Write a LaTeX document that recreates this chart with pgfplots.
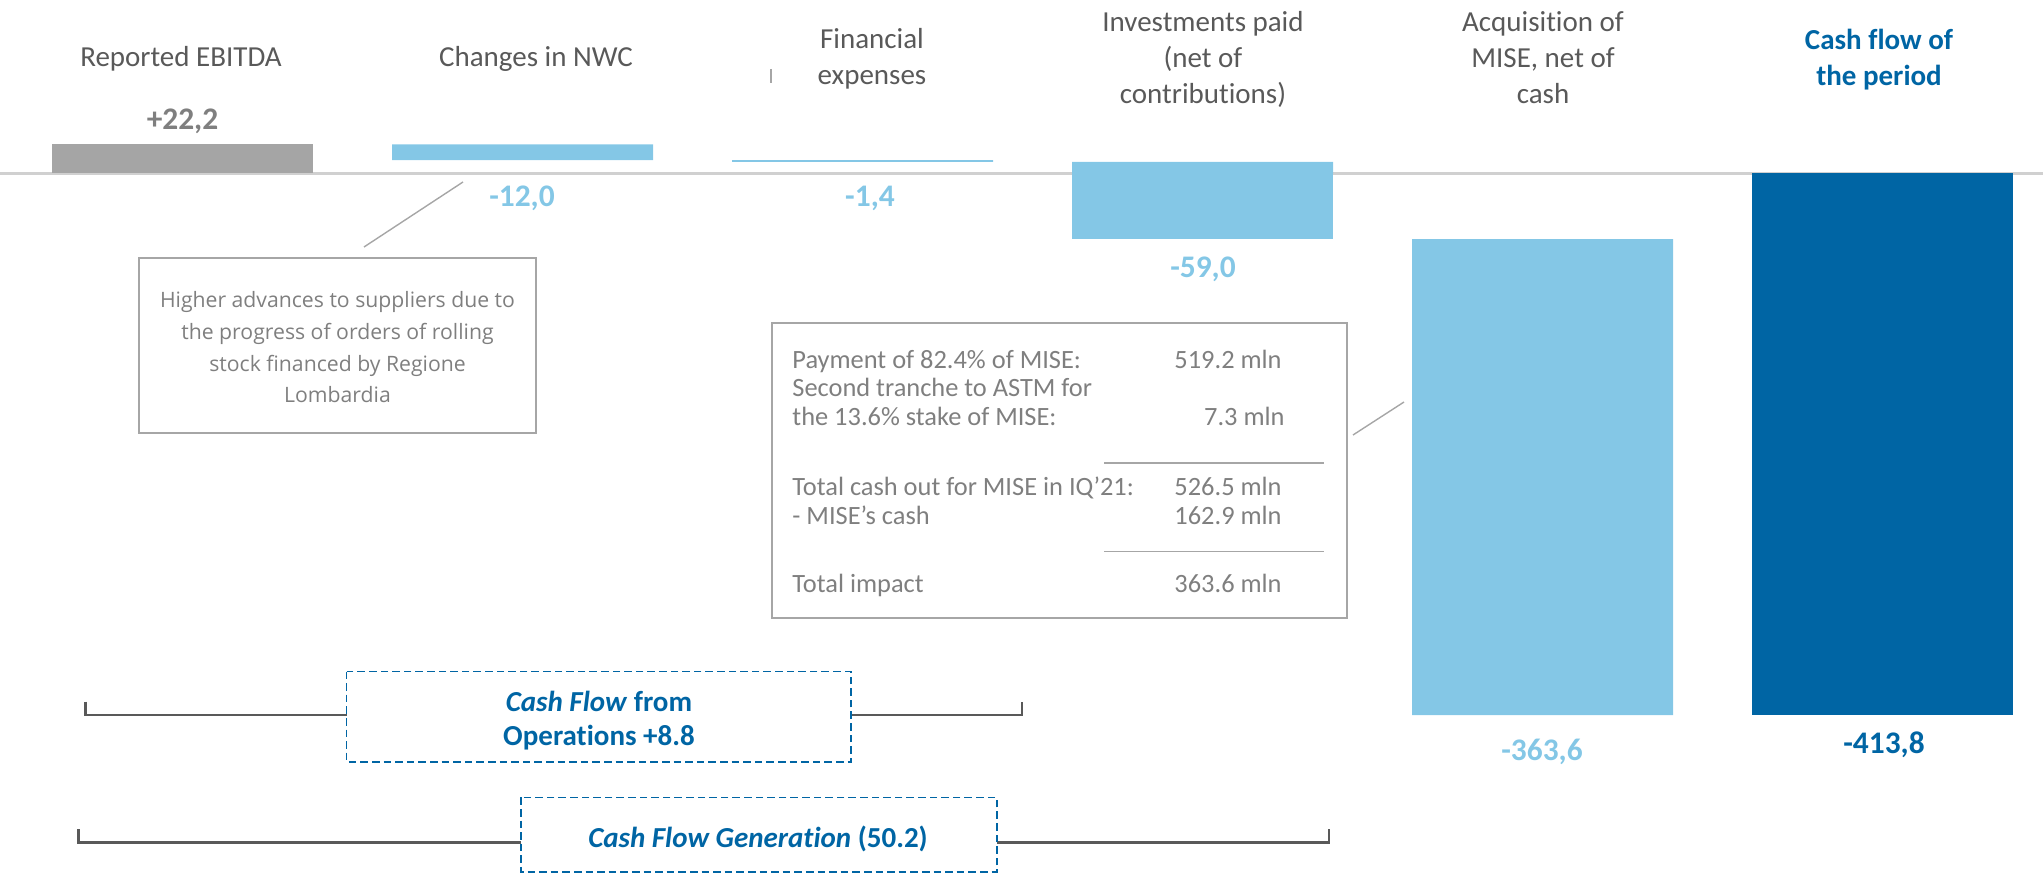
\documentclass[border=0pt]{standalone}
\usepackage{pgfplots}
\usepackage{pgfplotstable}
\pgfplotsset{compat=1.18}
\usepackage{fontspec}
\setmainfont{Carlito}[Ligatures={NoCommon}]
\newfontfamily\notefont{Open Sans}

\definecolor{labgray}{HTML}{595959}
\definecolor{valgray}{HTML}{7F7F7F}
\definecolor{bargray}{HTML}{A5A5A5}
\definecolor{lblue}{HTML}{84C7E6}
\definecolor{dblue}{HTML}{0065A4}
\definecolor{zerogray}{HTML}{D0D0D0}
\definecolor{boxgray}{HTML}{A6A6A6}

% waterfall bars as floating spans: invisible base, then the visible span
% (investments cross zero, so their negative part sits in neg)
\pgfplotstableread{
x base  ebitda  pos    neg     total
0 0     22.2    0      0       0
1 10.2  0       12.0   0       0
2 8.8   0       1.4    0       0
3 0     0       8.8   -50.2    0
4 -50.2 0      -363.6  0       0
5 0     0       0      0      -413.8
}\steps

\newcommand\lab[3]{\node[anchor=base, inner sep=0pt] at (#1,#2) {#3};}

\begin{document}
\begin{tikzpicture}
% zero line (picture is 2043 x 873 px, 1 px = 0.5pt)
\begin{scope}[shift={(0,436.5pt)}, x=0.5pt, y=-0.5pt]
  \draw[zerogray, line width=1.8pt] (0,173.5) -- (2043,173.5);
\end{scope}

\begin{axis}[
  name=ax, at={(0,0)}, anchor=south west,
  width=1021.5pt, height=436.5pt, scale only axis,
  hide axis, clip=false,
  xmin=-0.5368, xmax=5.472,
  ymin=-534.4, ymax=132.5,
  ybar stacked, bar width=130.5pt,
]
\addplot[draw=none, fill=none] table[x=x, y=base] {\steps};
\addplot[draw=none, fill=bargray] table[x=x, y=ebitda] {\steps};
\addplot[draw=none, fill=lblue] table[x=x, y=pos] {\steps};
\addplot[draw=none, fill=lblue] table[x=x, y=neg] {\steps};
\addplot[draw=none, fill=dblue] table[x=x, y=total] {\steps};
\end{axis}

\begin{scope}[shift={(0,436.5pt)}, x=0.5pt, y=-0.5pt]
  % category labels
  \begin{scope}[font=\fontsize{14.5}{17}\selectfont, text=labgray]
    \lab{181}{67}{Reported EBITDA}
    \lab{536}{67}{Changes in NWC}
    \lab{872}{49}{Financial}
    \lab{872}{85}{expenses}
    \lab{1203}{32}{Investments paid}
    \lab{1203}{68}{(net of}
    \lab{1203}{104}{contributions)}
    \lab{1543}{32}{Acquisition of}
    \lab{1543}{68}{MISE, net of}
    \lab{1543}{104}{cash}
  \end{scope}
  \begin{scope}[font=\fontsize{14.5}{17}\selectfont\bfseries, text=dblue]
    \lab{1879}{50}{Cash flow of}
    \lab{1879}{86}{the period}
  \end{scope}
  \draw[boxgray, line width=0.6pt] (771,69) -- (771,83);

  % value labels
  \begin{scope}[font=\fontsize{15.7}{18}\selectfont\bfseries]
    \lab{182.5}{130}{\textcolor{valgray}{+22,2}}
    \lab{522}{207}{\textcolor{lblue}{-12,0}}
    \lab{870}{207}{\textcolor{lblue}{-1,4}}
    \lab{1203}{278}{\textcolor{lblue}{-59,0}}
    \lab{1542}{760}{\textcolor{lblue}{-363,6}}
    \lab{1884}{753}{\textcolor{dblue}{-413,8}}
  \end{scope}

  % note on NWC
  \draw[boxgray, line width=0.7pt] (364,247) -- (463,182);
  \draw[boxgray, line width=0.7pt] (139,258) rectangle (536,433);
  \begin{scope}[font=\notefont\fontsize{10.6}{14}\selectfont, text=valgray]
    \lab{337.5}{308}{Higher advances to suppliers due to}
    \lab{337.5}{340}{the progress of orders of rolling}
    \lab{337.5}{371.5}{stock financed by Regione}
    \lab{337.5}{403}{Lombardia}
  \end{scope}

  % note on MISE
  \draw[boxgray, line width=0.7pt] (1353,435) -- (1404,402);
  \draw[boxgray, line width=0.7pt] (772,323) rectangle (1347,618);
  \draw[boxgray, line width=0.7pt] (1104,463) -- (1324,463);
  \draw[boxgray, line width=0.7pt] (1104,551.5) -- (1324,551.5);
  \begin{scope}[font=\fontsize{13.2}{15.8}\selectfont, text=valgray,
                every node/.style={inner sep=0pt}]
    \node[anchor=base west] at (792,368.5) {Payment of 82.4\% of MISE:};
    \node[anchor=base west] at (792,397) {Second tranche to ASTM for};
    \node[anchor=base west] at (792,425.5) {the 13.6\% stake of MISE:};
    \node[anchor=base west] at (792,496) {Total cash out for MISE in IQ’21:};
    \node[anchor=base west] at (792,525) {- MISE’s cash};
    \node[anchor=base west] at (792,592.5) {Total impact};
    \node[anchor=base east] at (1282,368.5) {519.2 mln};
    \node[anchor=base east] at (1285,425.5) {7.3 mln};
    \node[anchor=base east] at (1282,496) {526.5 mln};
    \node[anchor=base east] at (1282,525) {162.9 mln};
    \node[anchor=base east] at (1282,592.5) {363.6 mln};
  \end{scope}

  % brackets
  \draw[labgray, line width=1.3pt] (85.6,701.7) -- (85.6,715) -- (346.5,715);
  \draw[labgray, line width=1.3pt] (851,715) -- (1022,715) -- (1022,701.7);
  \draw[labgray, line width=1.3pt] (78.6,829.3) -- (78.6,842.3) -- (520.7,842.3);
  \draw[labgray, line width=1.3pt] (996.7,842.3) -- (1329,842.3) -- (1329,829.3);
  \draw[dblue, line width=0.8pt, dash pattern=on 3.8pt off 2pt] (346.5,671.5) rectangle (851,762);
  \draw[dblue, line width=0.8pt, dash pattern=on 3.8pt off 2pt] (520.7,797.3) rectangle (996.7,871.7);
  \begin{scope}[font=\fontsize{14.5}{17}\selectfont\bfseries, text=dblue]
    \lab{599}{711}{\textit{Cash Flow} from}
    \lab{599}{745}{Operations +8.8}
    \lab{758}{847}{\textit{Cash Flow Generation} (50.2)}
  \end{scope}
\end{scope}

\pgfresetboundingbox
\useasboundingbox (0,0) rectangle (1021.5pt,436.5pt);
\end{tikzpicture}
\end{document}
